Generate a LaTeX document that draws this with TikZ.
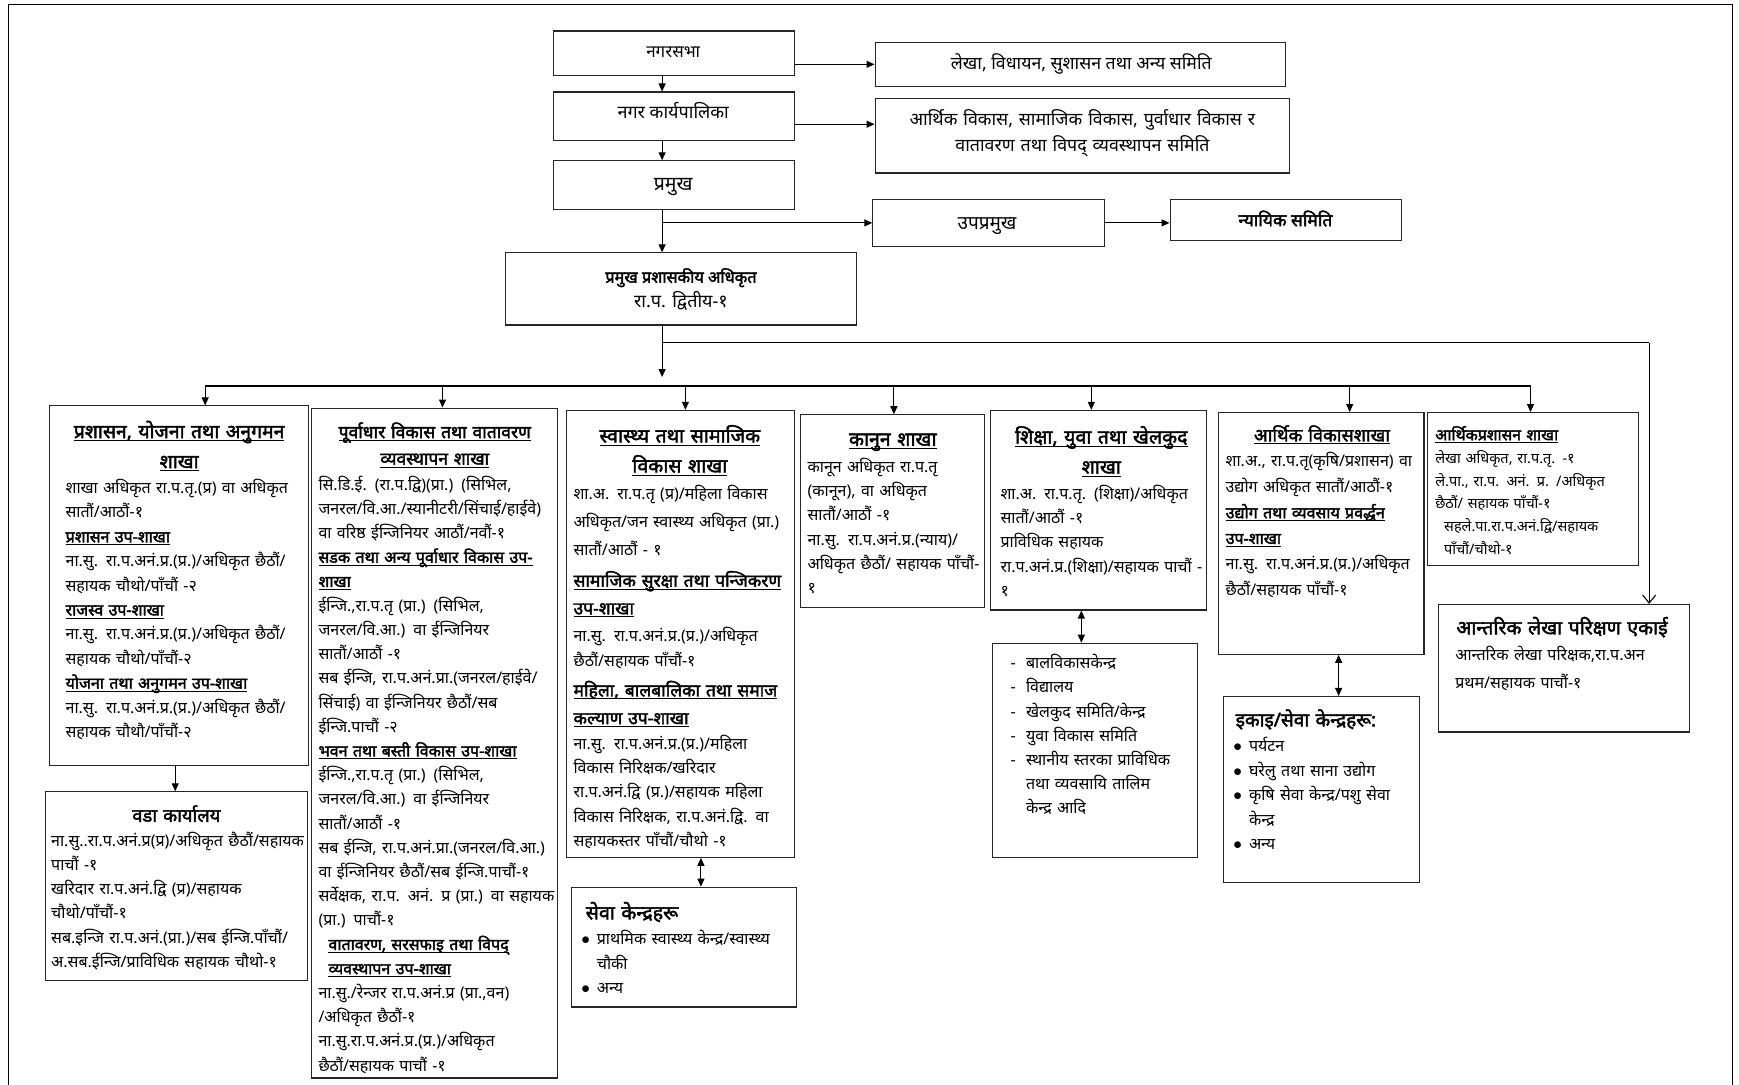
\documentclass[tikz,border=0pt]{standalone}
\usepackage{fontspec}
\setmainfont[Script=Devanagari, BoldFont={Noto Sans}, BoldFeatures={FakeBold=2.2}]{Noto Sans}
\usetikzlibrary{arrows.meta,fit}
\newlength\uu \setlength\uu{1.109pt}
\newcommand\fsz[2]{\fontsize{#1}{#2}\selectfont\lineskiplimit=-\maxdimen\lineskip=0pt\relax}
\newcommand\uln[1]{\leavevmode\setbox0\hbox{#1}\rlap{\rule[-3pt]{\wd0}{1pt}}\box0}
\newcommand\hd[1]{{\bfseries\uln{#1}}}
\newcommand\mkbox[5]{\node[bx, fit={(#2,#3) (#4,#5)}] (#1) {};}
\newcommand\bul{\makebox[14\uu][l]{$\bullet$}}
\newcommand\dsh{\makebox[14\uu][l]{-}}
\tikzset{
 bx/.style={draw=black!85, line width=1.1pt, inner sep=0pt},
 bt/.style={anchor=base west, inner sep=0pt, align=left, text width=340pt, font=\fsz{16}{#1}},
 ct/.style 2 args={anchor=base, inner sep=0pt, align=center, text width=320pt, font=\fsz{#1}{#2}\bfseries},
 lt/.style={anchor=base, inner sep=0pt, font=\fsz{#1}{#1}},
 ltb/.style={anchor=base, inner sep=0pt, font=\fsz{#1}{#1}\bfseries},
 arr/.style={line width=1.1pt, -{Triangle[length=8pt,width=7pt]}},
 darr/.style={line width=1.1pt, {Triangle[length=8pt,width=7pt]}-{Triangle[length=8pt,width=7pt]}},
 barb/.style={line width=1.1pt, -{Straight Barb[length=8pt,width=13pt]}},
 ln/.style={line width=1.1pt},
}
\begin{document}
\begin{tikzpicture}[x=1.109pt, y=-1.109pt]
\useasboundingbox (0,0) rectangle (1568,978);
\fill[white] (0,0) rectangle (1568,978);
\draw[line width=0.8pt] (8,4) rectangle (1562,1000);
% ---------- top ----------
\mkbox{nsb}{499}{28}{716}{68}
\node[lt=17] (nsbt) at (607,52) {नगरसभा};
\mkbox{kp}{499}{83}{716}{127}
\node[lt=18] (kpt) at (607,107) {नगर कार्यपालिका};
\mkbox{pr}{499}{145}{716}{189}
\node[lt=19.5] (prt) at (607,172) {प्रमुख};
\mkbox{cao}{456}{228}{772}{293}
\node[ltb=16.3] (caot) at (614,255) {प्रमुख प्रशासकीय अधिकृत};
\node[lt=18] (caob) at (614,277) {रा.प. द्वितीय-१};
\mkbox{lekha}{789}{38}{1159}{78}
\node[lt=17.7] (lekhat) at (975,63) {लेखा, विधायन, सुशासन तथा अन्य समिति};
\mkbox{com}{789}{89}{1163}{156}
\node[anchor=base, inner sep=0pt, align=center, text width=380pt, font=\fsz{17.8}{26.6pt}] (comt) at (976,113) {आर्थिक विकास, सामाजिक विकास, पुर्वाधार विकास र\\वातावरण तथा विपद् व्यवस्थापन समिति};
\mkbox{up}{787}{180}{996}{222}
\node[lt=19] (upt) at (890,207) {उपप्रमुख};
\mkbox{ny}{1055}{180}{1264}{217}
\node[ltb=17.5] (nyt) at (1159,204) {न्यायिक समिति};
% ---------- columns ----------
\mkbox{c1}{45}{366}{278}{690}
\node[ct={19.3}{30pt}] (c1h) at (161.5,395) {\uln{प्रशासन, योजना तथा अनुगमन}\\\uln{शाखा}};
\node[bt=24.4pt] (c1b) at (59,445) {शाखा अधिकृत रा.प.तृ.(प्र) वा अधिकृत\\
सातौं/आठौं-१\\
\hd{प्रशासन उप-शाखा}\\
ना.सु. रा.प.अनं.प्र.(प्र.)/अधिकृत छैठौं/\\
सहायक चौथो/पाँचौं -२\\
\hd{राजस्व उप-शाखा}\\
ना.सु. रा.प.अनं.प्र.(प्र.)/अधिकृत छैठौं/\\
सहायक चौथो/पाँचौं-२\\
\hd{योजना तथा अनुगमन उप-शाखा}\\
ना.सु. रा.प.अनं.प्र.(प्र.)/अधिकृत छैठौं/\\
सहायक चौथौ/पाँचौं-२};
\mkbox{wd}{41}{714}{277}{884}
\node[ct={18.3}{20pt}] (wdh) at (159,741) {वडा कार्यालय};
\node[bt=24.2pt] (wdb) at (46,763) {ना.सु..रा.प.अनं.प्र(प्र)/अधिकृत छैठौं/सहायक\\
पाचौं -१\\
खरिदार रा.प.अनं.द्वि (प्र)/सहायक\\
चौथो/पाँचौं-१\\
सब.इन्जि रा.प.अनं.(प्रा.)/सब ईन्जि.पाँचौं/\\
अ.सब.ईन्जि/प्राविधिक सहायक चौथो-१};
\mkbox{c2}{281}{368}{503}{972}
\node[ct={17.5}{26.6pt}] (c2h) at (392,395) {\uln{पूर्वाधार विकास तथा वातावरण}\\\uln{व्यवस्थापन शाखा}};
\node[bt=24.2pt] (c2b) at (287,442) {सि.डि.ई. (रा.प.द्वि)(प्रा.) (सिभिल,\\
जनरल/वि.आ./स्यानीटरी/सिंचाई/हाईवे)\\
वा वरिष्ठ ईन्जिनियर आठौं/नवौं-१\\
\hd{सडक तथा अन्य पूर्वाधार विकास उप-}\\
\hd{शाखा}\\
ईन्जि.,रा.प.तृ (प्रा.) (सिभिल,\\
जनरल/वि.आ.) वा ईन्जिनियर\\
सातौं/आठौं -१\\
सब ईन्जि, रा.प.अनं.प्रा.(जनरल/हाईवे/\\
सिंचाई) वा ईन्जिनियर छैठौं/सब\\
ईन्जि.पाचौं -२\\
\hd{भवन तथा बस्ती विकास उप-शाखा}\\
ईन्जि.,रा.प.तृ (प्रा.) (सिभिल,\\
जनरल/वि.आ.) वा ईन्जिनियर\\
सातौं/आठौं -१\\
सब ईन्जि, रा.प.अनं.प्रा.(जनरल/वि.आ.)\\
वा ईन्जिनियर छैठौं/सब ईन्जि.पाचौं-१\\
सर्वेक्षक, रा.प. अनं. प्र (प्रा.) वा सहायक\\
(प्रा.) पाचौं-१\\
\hspace*{9\uu}\hd{वातावरण, सरसफाइ तथा विपद्}\\
\hspace*{9\uu}\hd{व्यवस्थापन उप-शाखा}\\
ना.सु./रेन्जर रा.प.अनं.प्र (प्रा.,वन)\\
/अधिकृत छैठौं-१\\
ना.सु.रा.प.अनं.प्र.(प्र.)/अधिकृत\\
छैठौं/सहायक पाचौं -१};
\mkbox{c3}{511}{370}{716}{773}
\node[ct={19.5}{30pt}] (c3h) at (613,399) {\uln{स्वास्थ्य तथा सामाजिक}\\\uln{विकास शाखा}};
\node[bt=28.3pt] (c3a) at (517,450) {शा.अ. रा.प.तृ (प्र)/महिला विकास\\
अधिकृत/जन स्वास्थ्य अधिकृत (प्रा.)\\
सातौं/आठौं - १};
\node[bt=27.7pt, font=\fsz{17.5}{27.7pt}] (c3b) at (517,529) {\hd{सामाजिक सुरक्षा तथा पन्जिकरण}\\\hd{उप-शाखा}};
\node[bt=25.5pt] (c3c) at (517,578) {ना.सु. रा.प.अनं.प्र.(प्र.)/अधिकृत\\छैठौं/सहायक पाँचौं-१};
\node[bt=27.7pt, font=\fsz{17.5}{27.7pt}] (c3d) at (517,628) {\hd{महिला, बालबालिका तथा समाज}\\\hd{कल्याण उप-शाखा}};
\node[bt=24.1pt] (c3e) at (517,676) {ना.सु. रा.प.अनं.प्र.(प्र.)/महिला\\
विकास निरिक्षक/खरिदार\\
रा.प.अनं.द्वि (प्र.)/सहायक महिला\\
विकास निरिक्षक, रा.प.अनं.द्वि. वा\\
सहायकस्तर पाँचौं/चौथो -१};
\mkbox{sv}{515}{800}{718}{908}
\node[bt=20pt, font=\fsz{19.5}{20pt}\bfseries] (svh) at (528,829) {सेवा केन्द्रहरू};
\node[bt=24.4pt] (svb) at (524,852) {\bul प्राथमिक स्वास्थ्य केन्द्र/स्वास्थ्य\\\hspace*{14\uu}चौकी\\\bul अन्य};
\mkbox{c4}{722}{374}{888}{548}
\node[ct={19.5}{20pt}] (c4h) at (805,402) {\uln{कानुन शाखा}};
\node[bt=24.2pt] (c4b) at (728,426) {कानून अधिकृत रा.प.तृ\\
(कानून), वा अधिकृत\\
सातौं/आठौं -१\\
ना.सु. रा.प.अनं.प्र.(न्याय)/\\
अधिकृत छैठौं/ सहायक पाँचौं-\\
१};
\mkbox{c5}{893}{370}{1088}{550}
\node[ct={19.5}{30pt}] (c5h) at (993,400) {\uln{शिक्षा, युवा तथा खेलकुद}\\\uln{शाखा}};
\node[bt=24.4pt] (c5b) at (902,450) {शा.अ. रा.प.तृ. (शिक्षा)/अधिकृत\\
सातौं/आठौं -१\\
प्राविधिक सहायक\\
रा.प.अनं.प्र.(शिक्षा)/सहायक पाचौं -\\
१};
\mkbox{s5}{895}{580}{1080}{773}
\node[bt=24.2pt] (s5b) at (911,603) {\dsh बालविकासकेन्द्र\\
\dsh विद्यालय\\
\dsh खेलकुद समिति/केन्द्र\\
\dsh युवा विकास समिति\\
\dsh स्थानीय स्तरका प्राविधिक\\
\hspace*{14\uu}तथा व्यवसायि तालिम\\
\hspace*{14\uu}केन्द्र आदि};
\mkbox{c6}{1099}{372}{1284}{590}
\node[ct={18}{20pt}] (c6h) at (1192,398) {\uln{आर्थिक विकासशाखा}};
\node[bt=25.7pt] (c6b) at (1105,421) {शा.अ., रा.प.तृ(कृषि/प्रशासन) वा\\
उद्योग अधिकृत सातौं/आठौं-१\\
\hd{उद्योग तथा व्यवसाय प्रवर्द्धन}\\
\hd{उप-शाखा}\\
ना.सु. रा.प.अनं.प्र.(प्र.)/अधिकृत\\
छैठौं/सहायक पाँचौं-१};
\mkbox{ik}{1103}{628}{1280}{796}
\node[bt=20pt, font=\fsz{19}{20pt}\bfseries] (ikh) at (1114,655) {इकाइ/सेवा केन्द्रहरू:};
\node[bt=24.4pt] (ikb) at (1112,678) {\bul पर्यटन\\
\bul घरेलु तथा साना उद्योग\\
\bul कृषि सेवा केन्द्र/पशु सेवा\\
\hspace*{14\uu}केन्द्र\\
\bul अन्य};
\mkbox{c7}{1287}{372}{1477}{510}
\node[bt=20pt, font=\fsz{15.8}{20pt}\bfseries] (c7h) at (1294,397) {\uln{आर्थिकप्रशासन शाखा}};
\node[bt=22.7pt, font=\fsz{14.5}{22.7pt}] (c7b) at (1294,418) {लेखा अधिकृत, रा.प.तृ. -१\\
ले.पा., रा.प. अनं. प्र. /अधिकृत\\
छैठौं/ सहायक पाँचौं-१\\
\hspace*{8\uu}सहले.पा.रा.प.अनं.द्वि/सहायक\\
\hspace*{8\uu}पाँचौं/चौथो-१};
\mkbox{au}{1297}{545}{1523}{660}
\node[bt=20pt, font=\fsz{19.5}{20pt}\bfseries] (auh) at (1313,572) {आन्तरिक लेखा परिक्षण एकाई};
\node[bt=27.7pt] (aub) at (1312,596) {आन्तरिक लेखा परिक्षक,रा.प.अन\\प्रथम/सहायक पाचौं-१};
% ---------- connectors ----------
\coordinate (sp) at (597,0);
\coordinate (kpa) at (716,112);
\coordinate (j1) at (597,309);
\coordinate (j2) at (597,340);
\coordinate (ax) at (1487,0);
\draw[arr] (nsb.south -| sp) -- (kp.north -| sp);
\draw[arr] (kp.south -| sp) -- (pr.north -| sp);
\draw[arr] (pr.south -| sp) -- (cao.north -| sp);
\draw[arr] (lekha.west -| nsb.east) -- (lekha.west);
\draw[arr] (kpa) -- (kpa -| com.west);
\draw[arr] (up.west -| sp) -- (up.west);
\draw[arr] (up.east) -- (up.east -| ny.west);
\draw[ln] (cao.south -| sp) -- (j1) -- (j1 -| ax);
\draw[barb] (j1 -| ax) -- (au.north -| ax);
\draw[arr] (j1) -- (j2);
\coordinate (d1) at (185,348);
\coordinate (d2) at (399,348);
\coordinate (d3) at (618,348);
\coordinate (d4) at (806,348);
\coordinate (d5) at (984,348);
\coordinate (d6) at (1217,348);
\coordinate (d7) at (1380,348);
\draw[ln] (d1) -- (d7);
\draw[arr] (d1) -- (c1.north -| d1);
\draw[arr] (d2) -- (c2.north -| d2);
\draw[arr] (d3) -- (c3.north -| d3);
\draw[arr] (d4) -- (c4.north -| d4);
\draw[arr] (d5) -- (c5.north -| d5);
\draw[arr] (d6) -- (c6.north -| d6);
\draw[arr] (d7) -- (c7.north -| d7);
\coordinate (wx) at (158,0);
\coordinate (sx) at (632,0);
\coordinate (ex) at (975,0);
\coordinate (ix) at (1207,0);
\draw[arr] (c1.south -| wx) -- (wd.north -| wx);
\draw[darr] (c3.south -| sx) -- (sv.north -| sx);
\draw[darr] (c5.south -| ex) -- (s5.north -| ex);
\draw[darr] (c6.south -| ix) -- (ik.north -| ix);
\end{tikzpicture}
\end{document}
